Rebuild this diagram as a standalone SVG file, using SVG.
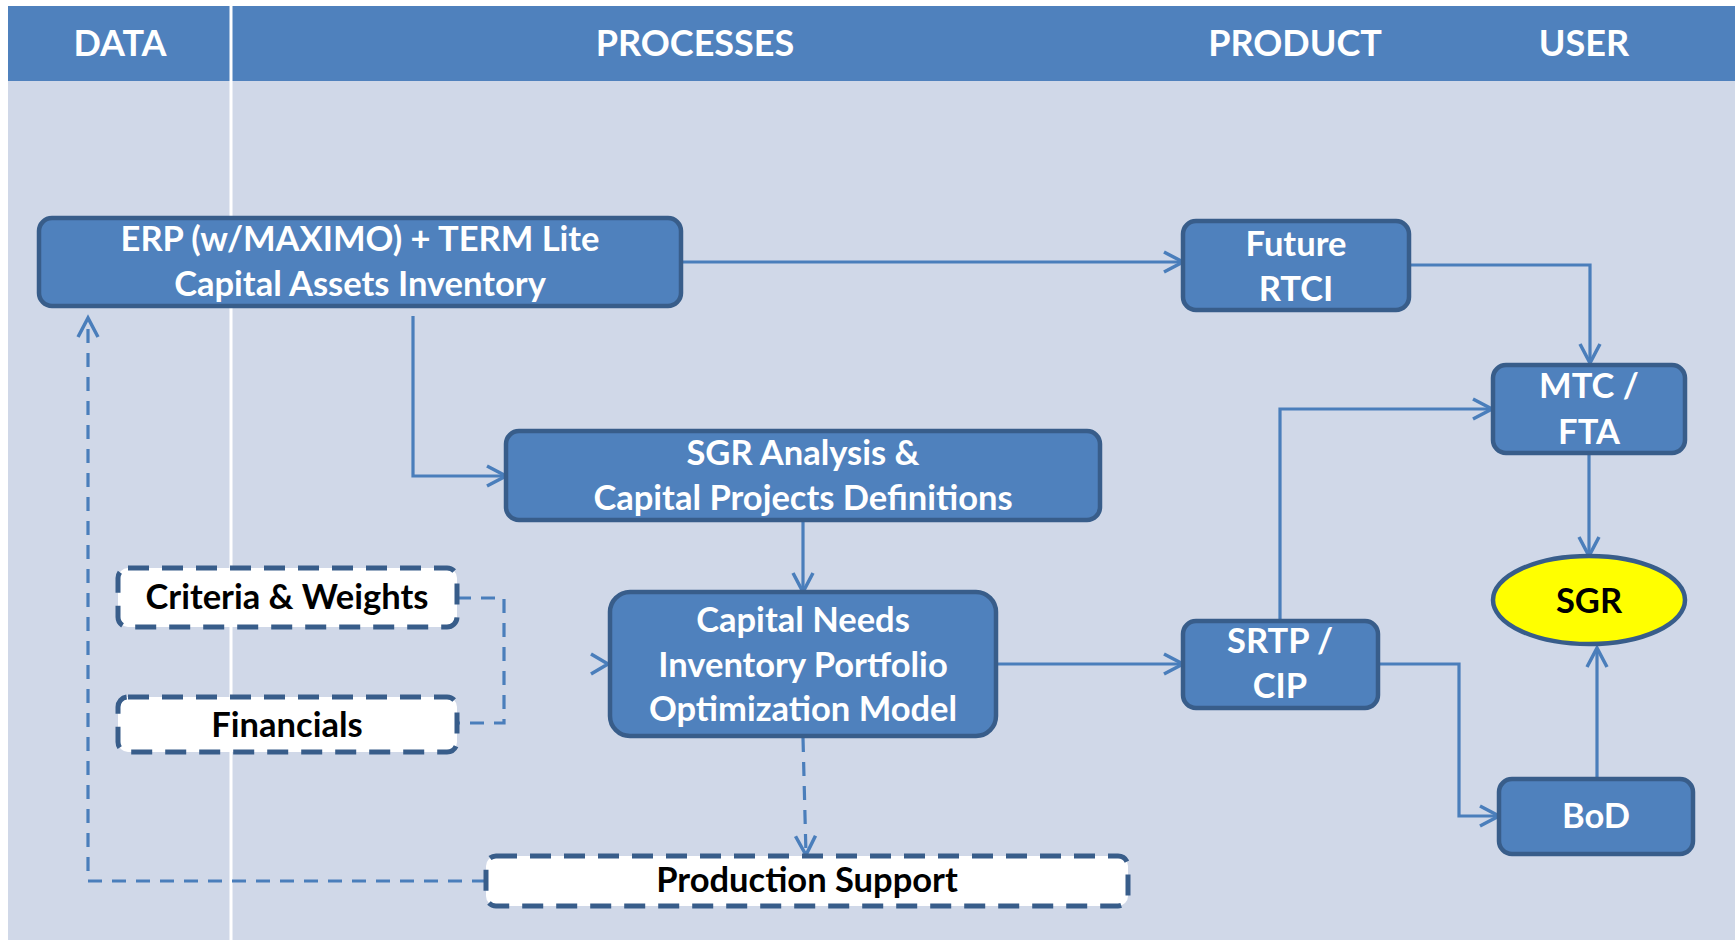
<svg xmlns="http://www.w3.org/2000/svg" width="1735" height="940" viewBox="0 0 1735 940">
  <style>
    .band { fill: #4F81BD; }
    .body { fill: #D0D8E8; }
    .head { font-family: Lato, "Open Sans", sans-serif; font-weight: bold; font-size: 36px; fill: #FFFFFF; text-anchor: middle; }
    .box { fill: #4F81BD; stroke: #385D8A; stroke-width: 4.5; }
    .dbox { fill: #FFFFFF; stroke: #385D8A; stroke-width: 5; stroke-dasharray: 21 13; }
    .oval { fill: #FFFF00; stroke: #385D8A; stroke-width: 4.5; }
    .lbl { font-family: Lato, "Open Sans", sans-serif; font-weight: bold; font-size: 34.5px; fill: #FFFFFF; text-anchor: middle; }
    .dark { fill: #000000; }
    .link { fill: none; stroke: #4A7EBB; stroke-width: 3.2; }
    .dash { stroke-dasharray: 14 10; }
  </style>
  <defs>
    <marker id="arrow" markerUnits="userSpaceOnUse" markerWidth="26" markerHeight="26" refX="22" refY="13" orient="auto">
      <path d="M3,3 L22,13 L3,23" fill="none" stroke="#4A7EBB" stroke-width="3.5"/>
    </marker>
  </defs>

  <!-- swimlane background -->
  <rect x="0" y="0" width="1735" height="940" fill="#FFFFFF"/>
  <rect class="band" x="8" y="6" width="1727" height="75"/>
  <rect class="body" x="8" y="81" width="1727" height="859"/>
  <line x1="231" y1="6" x2="231" y2="940" stroke="#FFFFFF" stroke-width="3"/>
  <g id="lanes">
    <text class="head" x="120" y="56">DATA</text>
    <text class="head" x="695" y="56">PROCESSES</text>
    <text class="head" x="1295" y="56">PRODUCT</text>
    <text class="head" x="1584" y="56">USER</text>
  </g>

  <!-- connectors -->
  <g id="connectors">
    <path class="link" d="M681,262 L1183,262" marker-end="url(#arrow)"/>
    <path class="link" d="M1409,265 L1590,265 L1590,363" marker-end="url(#arrow)"/>
    <path class="link" d="M413,316 L413,476 L506,476" marker-end="url(#arrow)"/>
    <path class="link" d="M803,521 L803,592" marker-end="url(#arrow)"/>
    <path class="link dash" d="M457,598 L504,598 L504,723 L457,723"/>
    <path d="M591,654 L608,664 L591,674" fill="none" stroke="#4A7EBB" stroke-width="3.5"/>
    <path class="link" d="M996,664 L1183,664" marker-end="url(#arrow)"/>
    <path class="link" d="M1280,621 L1280,409 L1492,409" marker-end="url(#arrow)"/>
    <path class="link" d="M1589,453 L1589,556" marker-end="url(#arrow)"/>
    <path class="link" d="M1378,664 L1459,664 L1459,816 L1499,816" marker-end="url(#arrow)"/>
    <path class="link" d="M1597,778 L1597,648" marker-end="url(#arrow)"/>
    <path class="link dash" d="M803,738 L806,855" marker-end="url(#arrow)"/>
    <path class="link dash" d="M486,881 L88,881 L88,318" marker-end="url(#arrow)"/>
  </g>

  <!-- process nodes -->
  <g id="erp">
    <rect class="box" x="39" y="218" width="642" height="88" rx="13"/>
    <text class="lbl" x="360" y="251">ERP (w/MAXIMO) + TERM Lite</text>
    <text class="lbl" x="360" y="296">Capital Assets Inventory</text>
  </g>
  <g id="future-rtci">
    <rect class="box" x="1183" y="221" width="226" height="89" rx="13"/>
    <text class="lbl" x="1296" y="256">Future</text>
    <text class="lbl" x="1296" y="301">RTCI</text>
  </g>
  <g id="mtc-fta">
    <rect class="box" x="1493" y="365" width="192" height="88" rx="13"/>
    <text class="lbl" x="1589" y="398">MTC /</text>
    <text class="lbl" x="1589" y="444">FTA</text>
  </g>
  <g id="sgr">
    <ellipse class="oval" cx="1589" cy="600" rx="96" ry="44"/>
    <text class="lbl dark" x="1589" y="613">SGR</text>
  </g>
  <g id="sgr-analysis">
    <rect class="box" x="506" y="431" width="594" height="89" rx="13"/>
    <text class="lbl" x="803" y="465">SGR Analysis &amp;</text>
    <text class="lbl" x="803" y="510">Capital Projects Definitions</text>
  </g>
  <g id="capital-needs">
    <rect class="box" x="610" y="592" width="386" height="144" rx="20"/>
    <text class="lbl" x="803" y="632">Capital Needs</text>
    <text class="lbl" x="803" y="677">Inventory Portfolio</text>
    <text class="lbl" x="803" y="721">Optimization Model</text>
  </g>
  <g id="srtp-cip">
    <rect class="box" x="1183" y="621" width="195" height="87" rx="13"/>
    <text class="lbl" x="1280" y="653">SRTP /</text>
    <text class="lbl" x="1280" y="698">CIP</text>
  </g>
  <g id="bod">
    <rect class="box" x="1499" y="779" width="194" height="75" rx="13"/>
    <text class="lbl" x="1596" y="828">BoD</text>
  </g>

  <!-- data inputs -->
  <g id="criteria-weights">
    <rect class="dbox" x="118" y="568" width="339" height="59" rx="10"/>
    <text class="lbl dark" x="287" y="609">Criteria &amp; Weights</text>
  </g>
  <g id="financials">
    <rect class="dbox" x="118" y="697" width="339" height="55" rx="10"/>
    <text class="lbl dark" x="287" y="737">Financials</text>
  </g>
  <g id="production-support">
    <rect class="dbox" x="486" y="856" width="642" height="50" rx="10"/>
    <text class="lbl dark" x="807" y="892">Production Support</text>
  </g>
</svg>
